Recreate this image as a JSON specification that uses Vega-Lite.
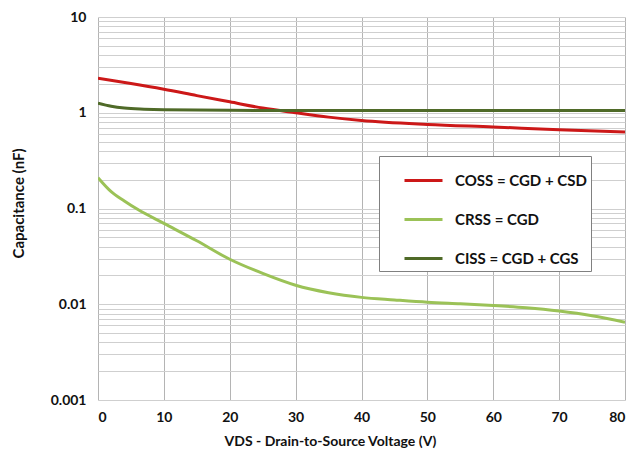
{
  "$schema": "https://vega.github.io/schema/vega-lite/v6.json",
  "width": 527,
  "height": 383,
  "autosize": {"type": "none"},
  "padding": {"left": 98, "top": 17, "right": 19, "bottom": 57},
  "background": "white",
  "config": {
    "view": {"stroke": null},
    "font": "Lato",
    "axis": {
      "labelFont": "Lato",
      "labelFontWeight": "bold",
      "labelFontSize": 14,
      "labelColor": "#111111",
      "titleFont": "Lato",
      "titleFontWeight": "bold",
      "titleFontSize": 14,
      "titleColor": "#111111",
      "ticks": false,
      "domain": false
    }
  },
  "data": {
    "values": [
      {"v": 0, "c": 2.29, "s": "COSS = CGD + CSD"},
      {"v": 5, "c": 2.02, "s": "COSS = CGD + CSD"},
      {"v": 10, "c": 1.76, "s": "COSS = CGD + CSD"},
      {"v": 15, "c": 1.51, "s": "COSS = CGD + CSD"},
      {"v": 20, "c": 1.30, "s": "COSS = CGD + CSD"},
      {"v": 25, "c": 1.12, "s": "COSS = CGD + CSD"},
      {"v": 30, "c": 1.0, "s": "COSS = CGD + CSD"},
      {"v": 35, "c": 0.90, "s": "COSS = CGD + CSD"},
      {"v": 40, "c": 0.83, "s": "COSS = CGD + CSD"},
      {"v": 50, "c": 0.755, "s": "COSS = CGD + CSD"},
      {"v": 60, "c": 0.71, "s": "COSS = CGD + CSD"},
      {"v": 70, "c": 0.665, "s": "COSS = CGD + CSD"},
      {"v": 80, "c": 0.63, "s": "COSS = CGD + CSD"},

      {"v": 0, "c": 0.21, "s": "CRSS = CGD"},
      {"v": 2, "c": 0.15, "s": "CRSS = CGD"},
      {"v": 4, "c": 0.12, "s": "CRSS = CGD"},
      {"v": 6, "c": 0.098, "s": "CRSS = CGD"},
      {"v": 10, "c": 0.07, "s": "CRSS = CGD"},
      {"v": 15, "c": 0.046, "s": "CRSS = CGD"},
      {"v": 20, "c": 0.0295, "s": "CRSS = CGD"},
      {"v": 25, "c": 0.021, "s": "CRSS = CGD"},
      {"v": 30, "c": 0.0158, "s": "CRSS = CGD"},
      {"v": 35, "c": 0.0132, "s": "CRSS = CGD"},
      {"v": 40, "c": 0.0118, "s": "CRSS = CGD"},
      {"v": 45, "c": 0.0111, "s": "CRSS = CGD"},
      {"v": 50, "c": 0.0105, "s": "CRSS = CGD"},
      {"v": 55, "c": 0.0101, "s": "CRSS = CGD"},
      {"v": 60, "c": 0.0097, "s": "CRSS = CGD"},
      {"v": 65, "c": 0.0092, "s": "CRSS = CGD"},
      {"v": 70, "c": 0.0085, "s": "CRSS = CGD"},
      {"v": 75, "c": 0.0076, "s": "CRSS = CGD"},
      {"v": 80, "c": 0.0065, "s": "CRSS = CGD"},

      {"v": 0, "c": 1.26, "s": "CISS = CGD + CGS"},
      {"v": 2, "c": 1.17, "s": "CISS = CGD + CGS"},
      {"v": 4, "c": 1.12, "s": "CISS = CGD + CGS"},
      {"v": 7, "c": 1.09, "s": "CISS = CGD + CGS"},
      {"v": 10, "c": 1.075, "s": "CISS = CGD + CGS"},
      {"v": 20, "c": 1.06, "s": "CISS = CGD + CGS"},
      {"v": 30, "c": 1.055, "s": "CISS = CGD + CGS"},
      {"v": 40, "c": 1.055, "s": "CISS = CGD + CGS"},
      {"v": 60, "c": 1.055, "s": "CISS = CGD + CGS"},
      {"v": 80, "c": 1.055, "s": "CISS = CGD + CGS"}
    ]
  },
  "mark": {"type": "line", "strokeWidth": 3, "interpolate": "monotone", "clip": true},
  "encoding": {
    "x": {
      "field": "v",
      "type": "quantitative",
      "scale": {"domain": [0, 80], "nice": false},
      "axis": {
        "title": "VDS - Drain-to-Source Voltage (V)",
        "values": [0, 10, 20, 30, 40, 50, 60, 70, 80],
        "labelPadding": 10,
        "titlePadding": 10,
        "titleX": 232,
        "gridColor": "#b4b4b4",
        "gridWidth": 1
      }
    },
    "y": {
      "field": "c",
      "type": "quantitative",
      "scale": {"type": "log", "domain": [0.001, 10], "nice": false},
      "axis": {
        "title": "Capacitance (nF)",
        "titleFontSize": 15,
        "format": "~g",
        "values": [0.001, 0.002, 0.003, 0.004, 0.005, 0.006, 0.007, 0.008, 0.009,
                   0.01, 0.02, 0.03, 0.04, 0.05, 0.06, 0.07, 0.08, 0.09,
                   0.1, 0.2, 0.3, 0.4, 0.5, 0.6, 0.7, 0.8, 0.9,
                   1, 2, 3, 4, 5, 6, 7, 8, 9, 10],
        "labelExpr": "indexof(['0.001', '0.01', '0.1', '1', '10'], datum.label) >= 0 ? datum.label : ''",
        "labelPadding": 12,
        "titlePadding": 24,
        "titleY": 186,
        "gridColor": "#cfcfcf",
        "gridWidth": 1
      }
    },
    "color": {
      "field": "s",
      "type": "nominal",
      "sort": null,
      "scale": {
        "domain": ["COSS = CGD + CSD", "CRSS = CGD", "CISS = CGD + CGS"],
        "range": ["#cc1818", "#9bc257", "#4f6a28"]
      },
      "legend": {
        "title": null,
        "orient": "none",
        "legendX": 281,
        "legendY": 139,
        "symbolType": "stroke",
        "symbolSize": 1444,
        "symbolStrokeWidth": 3,
        "symbolOffset": 20,
        "labelFont": "Lato",
        "labelFontWeight": "bold",
        "labelFontSize": 15,
        "labelColor": "#111111",
        "labelOffset": 11,
        "rowPadding": 10,
        "padding": 4,
        "fillColor": "white",
        "strokeColor": "#808080",
        "labelLimit": 300
      }
    }
  }
}
